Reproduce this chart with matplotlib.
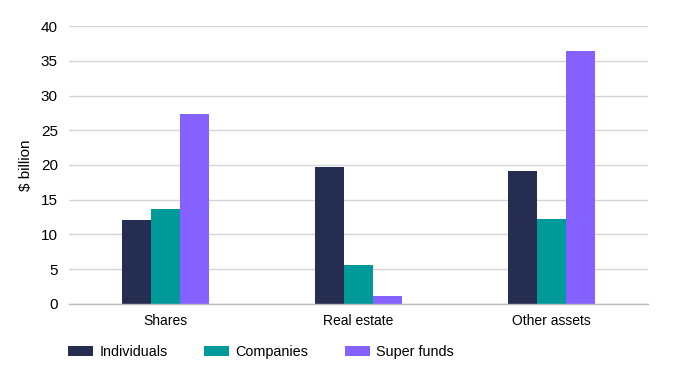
import numpy as np
import matplotlib
matplotlib.use("Agg")
import matplotlib.pyplot as plt
from matplotlib.patches import Patch

# --- data ---
categories = ["Shares", "Real estate", "Other assets"]
individuals = [12.1, 19.7, 19.1]
companies = [13.6, 5.6, 12.3]
super_funds = [27.4, 1.1, 36.4]

series = ["Individuals", "Companies", "Super funds"]
colors = ["#252d50", "#009a9a", "#8561ff"]

plt.rcParams["font.family"] = ["Liberation Sans", "DejaVu Sans"]

fig = plt.figure(figsize=(6.89, 3.78), dpi=100)
ax = fig.add_axes([0.1001, 0.1958, 0.8404, 0.7354])

x = np.arange(len(categories))
w = 0.15
for i, (vals, c) in enumerate(zip([individuals, companies, super_funds], colors)):
    ax.bar(x + (i - 1) * w, vals, width=w, color=c, linewidth=0, zorder=3)

ax.set_xlim(-0.5, 2.5)
ax.set_ylim(0, 40)
ax.set_yticks(range(0, 41, 5))
ax.set_xticks(x)
ax.set_xticklabels(categories, fontsize=10)
ax.tick_params(axis="y", labelsize=11, length=0, pad=8)
ax.tick_params(axis="x", length=0, pad=7)
ax.grid(axis="y", color="#d4d4d4", linewidth=1, zorder=0)
for s in ["top", "right", "left"]:
    ax.spines[s].set_visible(False)
ax.spines["bottom"].set_color("#bdbdbd")
ax.spines["bottom"].set_linewidth(1)
ax.spines["bottom"].set_zorder(4)

ax.set_ylabel("$ billion", fontsize=11)
ax.yaxis.set_label_coords(-0.062, 0.5)

handles = [Patch(facecolor=c, edgecolor="none") for c in colors]
fig.legend(handles, series, loc="center left", bbox_to_anchor=(0.08, 0.069),
           ncol=3, frameon=False, handlelength=1.7, handleheight=0.75,
           handletextpad=0.45, columnspacing=2.55,
           prop={"size": 10.4})

fig.savefig("out.png", dpi=100)
